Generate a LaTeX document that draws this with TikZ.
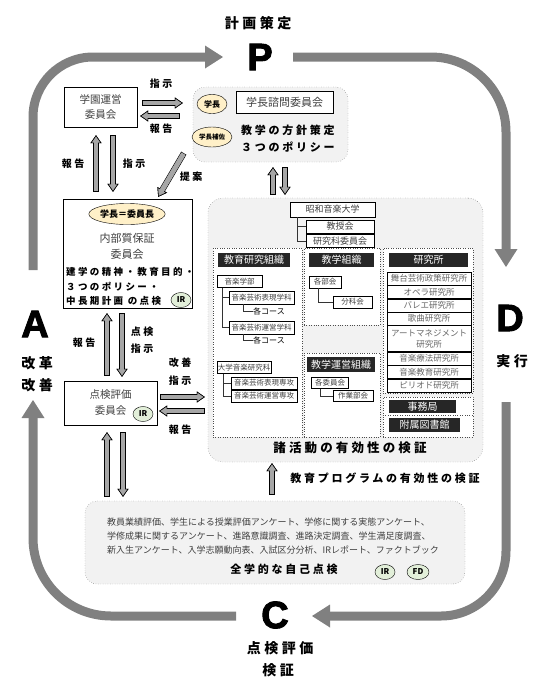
\documentclass[tikz,border=0pt]{standalone}
\usepackage{fontspec}
\setmainfont{Noto Sans CJK JP}
\newfontfamily\jpwide[LetterSpace=25]{Noto Sans CJK JP}
\newfontfamily\heavyfont[FakeBold=2.5]{Liberation Sans}
\usepackage{tikz}
\usetikzlibrary{positioning,arrows.meta,shapes.geometric,calc}

\definecolor{cyclegray}{HTML}{808080}
\definecolor{arrowgray}{HTML}{A6A6A6}
\definecolor{panel}{HTML}{F2F2F2}
\definecolor{chairyellow}{HTML}{FFF0C8}
\definecolor{irgreen}{HTML}{E2EFD9}
\definecolor{headblack}{HTML}{262626}
\definecolor{txtgray}{HTML}{404040}

\begin{document}
\begin{tikzpicture}[x=1pt, y=-1pt,
  cyc/.style={draw=cyclegray, line width=9pt, -{Triangle[length=18pt,width=23pt,line width=0pt]}},
  phase/.style={font=\jpwide\fontsize{14}{16}\selectfont\bfseries},
  pdca/.style={font=\heavyfont\fontsize{38}{38}\selectfont\bfseries, inner sep=0pt},
  lbl/.style={font=\jpwide\fontsize{10}{12}\selectfont\bfseries},
  box/.style={draw, fill=white, inner sep=0pt, text=txtgray},
  panelbox/.style={draw=black!70, dotted, fill=panel, rounded corners=12pt},
  colbox/.style={draw=black!70, dotted, fill=white},
  headbar/.style={fill=headblack, text=white, inner sep=0pt, font=\fontsize{10}{12}\selectfont},
  orgbox/.style={box, font=\fontsize{7.5}{9}\selectfont},
  inst/.style={box, font=\fontsize{8.5}{10}\selectfont, minimum width=84pt, minimum height=13pt, text=black!60},
  pill/.style={ellipse, draw, inner sep=0pt, font=\fontsize{8}{9}\selectfont\bfseries},
  chair/.style={pill, fill=chairyellow},
  ir/.style={pill, fill=irgreen, minimum width=20pt, minimum height=15pt},
  blk/.style={draw=arrowgray, line width=4.6pt, shorten <=0.7pt,
    -{Triangle[length=8pt,width=11pt,line width=0.6pt,color=black,fill=arrowgray]},
    preaction={draw=black, line width=6pt, shorten <=0pt},
    postaction={draw=arrowgray, line width=4.6pt, arrows=-, shorten >=6pt}},
  treeline/.style={draw=black!80, line width=0.6pt}
]
\useasboundingbox (0,0) rectangle (546,686);

\node[phase] (plan) at (258,23) {計画策定};
\node[pdca] (P) at (260,57) {P};
\node[pdca] (D) at (510,318) {D};
\node[phase] (do) at (512,361) {実行};
\node[pdca] (A) at (35,324) {A};
\node[phase] (act1) at (37,363) {改革};
\node[phase] (act2) at (37,385) {改善};
\node[pdca] (C) at (275,615) {C};
\node[phase] (chk1) at (280,648) {点検評価};
\node[phase] (chk2) at (278,670) {検証};

\coordinate (a-out) at (33,270);
\coordinate (p-in) at (223,57);
\coordinate (p-out) at (293,57);
\coordinate (d-in) at (506,267);
\coordinate (d-out) at (506,402);
\coordinate (c-in) at (312,616);
\coordinate (c-out) at (236,616);
\coordinate (a-in) at (33,400);
\draw[cyc, rounded corners=60pt] (a-out) |- (p-in);
\draw[cyc, rounded corners=75pt] (p-out) -| (d-in);
\draw[cyc, rounded corners=65pt] (d-out) |- (c-in);
\draw[cyc, rounded corners=78pt] (c-out) -| (a-in);

\node[box, minimum width=73pt, minimum height=40pt, align=center, font=\fontsize{10.5}{15}\selectfont] (gakuen) at (100.5,107) {学園運営\\委員会};

\node[panelbox, minimum width=155pt, minimum height=75pt] (policy) at (270.5,124.5) {};
\node[chair, minimum width=30pt, minimum height=19pt] (pres) at (212,104) {学長};
\node[box, minimum width=97pt, minimum height=22pt, font=\fontsize{11}{13}\selectfont] (advisory) at (284.5,102) {学長諮問委員会};
\node[chair, minimum width=40pt, minimum height=20pt, font=\fontsize{6.5}{8}\selectfont\bfseries] (asst) at (212,137) {学長補佐};
\node[anchor=west, align=left, inner sep=0pt, font=\jpwide\fontsize{11}{17}\selectfont\bfseries] (aim) at (241,139) {教学の方針策定\\３つのポリシー};

\draw[blk] ($(gakuen.east)+(5,-4)$) -- ($(gakuen.east -| policy.west)+(-10,-4)$);
\draw[blk] ($(gakuen.east -| policy.west)+(-13,9)$) -- ($(gakuen.east)+(3,9)$);
\node[lbl] (inst1) at (161,84) {指示};
\node[lbl] (rep1) at (161,129) {報告};

\node[box, minimum width=129pt, minimum height=109pt] (naibu) at (127.5,253.5) {};
\node[chair, minimum width=76pt, minimum height=21pt, font=\fontsize{9}{10}\selectfont\bfseries] (chairman) at (127,214) {学長＝委員長};
\node[align=center, text=txtgray, font=\fontsize{11}{16}\selectfont] (naibu-name) at (127,246) {内部質保証\\委員会};
\node[anchor=west, align=left, inner sep=0pt, font=\jpwide\fontsize{9.5}{14.5}\selectfont\bfseries] (naibu-task) at (66,286.5) {建学の精神・教育目的・\\３つのポリシー・\\中長期計画 の点検};
\node[ir] (ir1) at (181,300) {IR};

\draw[blk] ($(naibu.north -| gakuen.south)+(-4.5,-7)$) -- ($(gakuen.south)+(-4.5,8)$);
\draw[blk] ($(gakuen.south)+(12.5,8)$) -- ($(naibu.north -| gakuen.south)+(12.5,-7)$);
\node[lbl] (rep2) at (73,164) {報告};
\node[lbl] (inst2) at (134,164) {指示};

\draw[blk] ($(policy.south west)+(-9,-9)$) -- ($(naibu.north east)+(-34,-2)$);
\node[lbl] (propose) at (191,177) {提案};

\node[box, minimum width=93pt, minimum height=44pt, align=center, font=\fontsize{10.5}{16}\selectfont] (tenken) at (110.5,403) {点検評価\\委員会};
\node[ir] (ir2) at (143,414) {IR};

\draw[blk] ($(tenken.north)+(-3.5,-5)$) -- ($(naibu.south -| tenken.north)+(-3.5,5)$);
\draw[blk] ($(naibu.south -| tenken.north)+(11.5,5)$) -- ($(tenken.north)+(11.5,-4)$);
\node[lbl] (rep3) at (84,343) {報告};
\node[lbl, align=center, font=\jpwide\fontsize{10}{17}\selectfont\bfseries] (inst3) at (142,340.5) {点検\\指示};

\node[panelbox, rounded corners=15pt, minimum width=275pt, minimum height=264pt] (bigbox) at (345.5,330) {};

\draw[blk] ($(policy.south |- bigbox.north)+(2.5,-3)$) -- ($(policy.south)+(2.5,5)$);
\draw[blk] ($(policy.south)+(14.5,5)$) -- ($(policy.south |- bigbox.north)+(14.5,-3)$);

\draw[blk] ($(tenken.east)+(3,-6)$) -- ($(tenken.east -| bigbox.west)+(-3,-6)$);
\draw[blk] ($(tenken.east -| bigbox.west)+(-3,8)$) -- ($(tenken.east)+(2,8)$);
\node[lbl, align=center, font=\jpwide\fontsize{10}{18}\selectfont\bfseries] (inst4) at (180,372) {改善\\指示};
\node[lbl] (rep4) at (180,430) {報告};

\node[box, minimum width=85pt, minimum height=15pt, font=\fontsize{9}{10}\selectfont] (showa) at (332.5,209.5) {昭和音楽大学};
\node[box, minimum width=68pt, minimum height=13pt, font=\fontsize{9}{10}\selectfont] (faculty) at (340,226.5) {教授会};
\node[box, minimum width=68pt, minimum height=13pt, font=\fontsize{9}{10}\selectfont] (gradcom) at (340,241) {研究科委員会};
\draw[treeline] ($(showa.south west)+(7,0)$) |- (faculty.west);
\draw[treeline] ($(showa.south west)+(7,0)$) |- (gradcom.west);

\node[colbox, minimum width=89pt, minimum height=189pt] (c-edu) at (257.5,342.5) {};
\node[colbox, minimum width=76pt, minimum height=77pt] (c-aca) at (342,286.5) {};
\node[colbox, minimum width=76pt, minimum height=84pt] (c-admin) at (342,395) {};
\node[colbox, minimum width=90pt, minimum height=145pt] (c-lab) at (428,320.5) {};
\node[colbox, minimum width=90pt, minimum height=18pt] (c-office) at (428,406) {};
\node[colbox, minimum width=90pt, minimum height=22pt] (c-lib) at (428,426) {};

\node[headbar, minimum width=72pt, minimum height=14pt] (h-edu) at (254,260) {教育研究組織};
\node[headbar, minimum width=65pt, minimum height=14pt] (h-aca) at (341.5,260) {教学組織};
\node[headbar, minimum width=79pt, minimum height=14pt] (h-lab) at (428.5,260) {研究所};
\node[headbar, minimum width=68pt, minimum height=15pt] (h-admin) at (341,364.5) {教学運営組織};
\node[headbar, minimum width=67pt, minimum height=13pt] (h-office) at (422.5,406.5) {事務局};
\node[headbar, minimum width=71pt, minimum height=14pt] (h-lib) at (424.5,425) {附属図書館};

\node[orgbox, minimum width=45pt, minimum height=12pt] (music) at (239.5,281.5) {音楽学部};
\node[orgbox, minimum width=65pt, minimum height=13pt] (dept1) at (261.5,297.5) {音楽芸術表現学科};
\node[orgbox, minimum width=65pt, minimum height=13pt] (dept2) at (261.5,327.5) {音楽芸術運営学科};
\node[anchor=west, inner sep=0pt, font=\fontsize{8}{9}\selectfont] (course1) at (253,311) {各コース};
\node[anchor=west, inner sep=0pt, font=\fontsize{8}{9}\selectfont] (course2) at (253,340) {各コース};
\draw[treeline] ($(music.south west)+(5,0)$) |- (dept1.west);
\draw[treeline] ($(music.south west)+(5,0)$) |- (dept2.west);
\draw[treeline] ($(dept1.south west)+(14,0)$) |- (course1.west);
\draw[treeline] ($(dept2.south west)+(14,0)$) |- (course2.west);

\node[orgbox, minimum width=54pt, minimum height=12pt] (grad) at (244,367.5) {大学音楽研究科};
\node[orgbox, minimum width=66pt, minimum height=12pt] (major1) at (264,383) {音楽芸術表現専攻};
\node[orgbox, minimum width=66pt, minimum height=12pt] (major2) at (264,396) {音楽芸術運営専攻};
\draw[treeline] ($(grad.south west)+(6,0)$) |- (major1.west);
\draw[treeline] ($(grad.south west)+(6,0)$) |- (major2.west);

\node[orgbox, minimum width=32pt, minimum height=12pt] (bukai) at (325,282) {各部会};
\node[orgbox, minimum width=39pt, minimum height=12pt] (bunka) at (352.5,302) {分科会};
\draw[treeline] ($(bukai.south west)+(9,0)$) |- (bunka.west);

\node[orgbox, minimum width=37pt, minimum height=11pt] (iinkai) at (330,383) {各委員会};
\node[orgbox, minimum width=40pt, minimum height=11pt] (sagyo) at (353,396) {作業部会};
\draw[treeline] ($(iinkai.south west)+(9,0)$) |- (sagyo.west);

\node[inst] (lab1) at (429,278.5) {舞台芸術政策研究所};
\node[inst, below=0pt of lab1] (lab2) {オペラ研究所};
\node[inst, below=0pt of lab2] (lab3) {バレエ研究所};
\node[inst, below=0pt of lab3] (lab4) {歌曲研究所};
\node[inst, below=0pt of lab4, minimum height=26pt, align=center, font=\fontsize{8.5}{11}\selectfont] (lab5) {アートマネジメント\\研究所};
\node[inst, below=0pt of lab5] (lab6) {音楽療法研究所};
\node[inst, below=0pt of lab6] (lab7) {音楽教育研究所};
\node[inst, below=0pt of lab7] (lab8) {ピリオド研究所};

\node[lbl, font=\jpwide\fontsize{12.5}{14}\selectfont\bfseries] (activity) at (350,448) {諸活動の有効性の検証};

\node[panelbox, minimum width=380pt, minimum height=83pt] (selfcheck) at (275,542.5) {};
\draw[blk] ($(selfcheck.north)+(-3,-6)$) -- ($(selfcheck.north |- bigbox.south)+(-3,1)$);
\node[lbl, font=\jpwide\fontsize{11}{13}\selectfont\bfseries] (prog) at (385,478) {教育プログラムの有効性の検証};

\draw[blk] ($(selfcheck.north -| tenken.south)+(-3.5,-4)$) -- ($(tenken.south)+(-3.5,7)$);
\draw[blk] ($(tenken.south)+(12.5,7)$) -- ($(selfcheck.north -| tenken.south)+(12.5,-4)$);

\node[anchor=north west, align=left, inner sep=0pt, text=txtgray, font=\fontsize{9}{14}\selectfont] (survey) at (107,518) {教員業績評価、学生による授業評価アンケート、学修に関する実態アンケート、\\学修成果に関するアンケート、進路意識調査、進路決定調査、学生満足度調査、\\新入生アンケート、入学志願動向表、入試区分分析、IRレポート、ファクトブック};
\node[lbl, font=\jpwide\fontsize{11}{13}\selectfont\bfseries] (selfname) at (284,569) {全学的な自己点検};
\node[ir] (ir3) at (385,572) {IR};
\node[ir, minimum width=22pt] (fd) at (418,572) {FD};
\end{tikzpicture}
\end{document}
